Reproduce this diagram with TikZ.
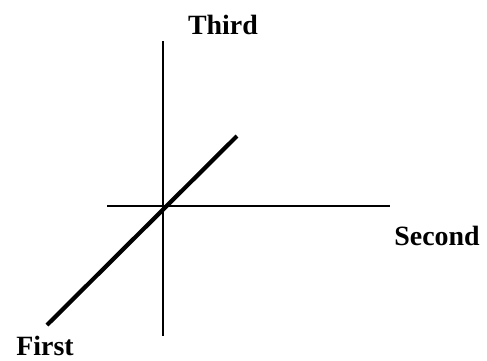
\documentclass[tikz,border=0pt]{standalone}
\usepackage{fontspec}
\setmainfont{Liberation Serif}
\usepackage{tikz}
\usetikzlibrary{positioning}

\begin{document}
\begin{tikzpicture}[x=1bp, y=-1bp,
		axis/.style={line width=2.8bp, black},
		depth/.style={line width=4.2bp, black},
		axislabel/.style={font=\fontsize{28}{31}\selectfont\bfseries, inner sep=0pt, anchor=base}]
	% === RAMKA ===
	\useasboundingbox (0,0) rectangle (487,360);
	
	% === PUNKTY KOŃCOWE OSI ===
	\coordinate (origin) at (163,206);
	\coordinate (thirdTop) at (163,41);
	\coordinate (thirdBot) at (163,336);
	\coordinate (secondL) at (107,206);
	\coordinate (secondR) at (390,206);
	\coordinate (firstLo) at (47,325);
	\coordinate (firstHi) at (237,136);
	
	% === OSIE ===
	\draw[axis] (thirdTop) -- (thirdBot);
	\draw[axis] (secondL) -- (secondR);
	\draw[depth] (firstLo) -- (firstHi);
	
	% === ETYKIETY (linia bazowa) ===
	\node[axislabel] (third) at (223,34) {Third};
	\node[axislabel] (second) at (437,245) {Second};
	\node[axislabel] (first) at (45,355) {First};
\end{tikzpicture}
\end{document}
